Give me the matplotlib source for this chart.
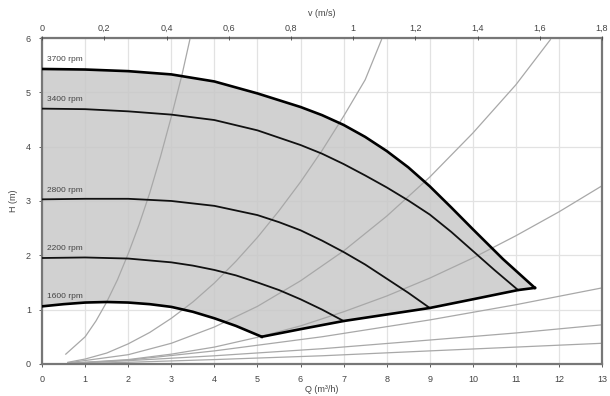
import matplotlib
matplotlib.use("Agg")
import matplotlib.pyplot as plt

plt.rcParams['font.family'] = ['Liberation Sans', 'DejaVu Sans']

# pump curves, Q (m3/h) vs H (m)
q_3700 = [0, 1.0, 2.0, 3.0, 4.0, 5.0, 6.0, 6.5, 7.0, 7.5, 8.0, 8.5, 9.0, 9.5, 10.0, 10.7, 11.44]
h_3700 = [5.43, 5.42, 5.39, 5.33, 5.20, 4.98, 4.73, 4.58, 4.40, 4.18, 3.92, 3.62, 3.27, 2.88, 2.48, 1.93, 1.40]

q_3400 = [0, 1.0, 2.0, 3.0, 4.0, 5.0, 6.0, 6.5, 7.0, 7.5, 8.0, 8.5, 9.0, 9.5, 10.0, 10.5, 11.05]
h_3400 = [4.70, 4.69, 4.65, 4.59, 4.49, 4.30, 4.03, 3.87, 3.68, 3.47, 3.25, 3.01, 2.75, 2.43, 2.08, 1.73, 1.36]

q_2800 = [0, 1.0, 2.0, 3.0, 4.0, 5.0, 5.5, 6.0, 6.5, 7.0, 7.5, 8.0, 8.5, 9.0]
h_2800 = [3.03, 3.04, 3.04, 3.00, 2.91, 2.74, 2.61, 2.46, 2.27, 2.06, 1.83, 1.57, 1.31, 1.03]

q_2200 = [0, 1.0, 2.0, 3.0, 3.5, 4.0, 4.5, 5.0, 5.5, 6.0, 6.5, 7.0]
h_2200 = [1.95, 1.96, 1.94, 1.87, 1.81, 1.73, 1.63, 1.50, 1.36, 1.19, 1.00, 0.79]

q_1600 = [0, 0.5, 1.0, 1.5, 2.0, 2.5, 3.0, 3.5, 4.0, 4.5, 5.1]
h_1600 = [1.06, 1.10, 1.13, 1.14, 1.13, 1.10, 1.05, 0.96, 0.84, 0.70, 0.50]

# max flow boundary (bottom right edge of the field)
q_limit = [5.1, 6.0, 7.0, 8.0, 9.0, 10.0, 11.05, 11.44]
h_limit = [0.50, 0.64, 0.79, 0.91, 1.03, 1.19, 1.36, 1.40]

speed_labels = ['3700 rpm', '3400 rpm', '2800 rpm', '2200 rpm', '1600 rpm']
label_h = [5.6, 4.86, 3.2, 2.12, 1.24]

# thin grey system curves
sys_q = [
    [0.55, 1.0, 1.25, 1.5, 1.75, 2.0, 2.25, 2.5, 2.75, 3.0, 3.25, 3.43],
    [0.6, 1.0, 1.5, 2.0, 2.5, 3.0, 3.5, 4.0, 4.5, 5.0, 5.5, 6.0, 6.5, 7.0, 7.5, 7.88],
    [0.6, 2.0, 3.0, 4.0, 5.0, 6.0, 7.0, 8.0, 9.0, 10.0, 11.0, 11.8],
    [0.6, 2.0, 3.0, 4.0, 5.0, 6.0, 7.0, 8.0, 9.0, 10.0, 11.0, 12.0, 13.0],
    [0.6, 2.0, 4.0, 6.5, 9.0, 11.0, 13.0],
    [0.6, 2.0, 4.0, 6.5, 9.0, 11.0, 13.0],
    [0.6, 2.0, 4.0, 6.5, 9.0, 11.0, 13.0],
]
sys_h = [
    [0.18, 0.50, 0.79, 1.14, 1.55, 2.03, 2.56, 3.15, 3.82, 4.55, 5.33, 5.97],
    [0.03, 0.09, 0.20, 0.37, 0.58, 0.84, 1.14, 1.49, 1.89, 2.33, 2.82, 3.35, 3.93, 4.56, 5.23, 5.97],
    [0.02, 0.17, 0.38, 0.68, 1.06, 1.53, 2.08, 2.72, 3.44, 4.25, 5.14, 5.97],
    [0.01, 0.08, 0.18, 0.31, 0.49, 0.70, 0.96, 1.25, 1.58, 1.95, 2.36, 2.80, 3.28],
    [0.01, 0.07, 0.24, 0.50, 0.81, 1.09, 1.40],
    [0.01, 0.06, 0.15, 0.28, 0.44, 0.57, 0.72],
    [0.0, 0.03, 0.08, 0.15, 0.24, 0.31, 0.38],
]

q_ticks = list(range(0, 14))
h_ticks = list(range(0, 7))
v_ticks = [0, 0.2, 0.4, 0.6, 0.8, 1.0, 1.2, 1.4, 1.6, 1.8]
v_tick_labels = ['0', '0,2', '0,4', '0,6', '0,8', '1', '1,2', '1,4', '1,6', '1,8']

fig = plt.figure(figsize=(6.1, 3.96), dpi=100)
ax = fig.add_axes([0.069, 0.081, 0.918, 0.823])

txt_col = '#444444'

# field of operation
poly_q = [0] + q_3700 + q_limit[::-1] + q_1600[::-1]
poly_h = [h_1600[0]] + h_3700 + h_limit[::-1] + h_1600[::-1]
ax.fill(poly_q, poly_h, color='#c9c9c9', alpha=0.85, lw=0, zorder=1)

for qs, hs in zip(sys_q, sys_h):
    ax.plot(qs, hs, color='#a8a8a8', lw=0.9, zorder=2)

ax.plot(q_3700, h_3700, color='black', lw=1.9, zorder=4, solid_joinstyle='round')
ax.plot(q_1600, h_1600, color='black', lw=1.9, zorder=4, solid_joinstyle='round')
ax.plot(q_limit, h_limit, color='black', lw=1.9, zorder=4, solid_joinstyle='round')
for qs, hs in [(q_3400, h_3400), (q_2800, h_2800), (q_2200, h_2200)]:
    ax.plot(qs, hs, color='#111111', lw=1.3, zorder=3, solid_joinstyle='round')

for lab, y in zip(speed_labels, label_h):
    ax.text(0.12, y, lab, fontsize=6, color=txt_col, va='center', ha='left', zorder=5)

ax.set_xlim(0, 13)
ax.set_ylim(0, 6)
ax.set_xticks(q_ticks)
ax.set_yticks(h_ticks)
ax.grid(True, color='#e2e2e2', lw=0.9, zorder=0)
ax.set_axisbelow(True)
ax.tick_params(labelsize=6.5, colors=txt_col, length=2, width=0.6, pad=6)
for sp in ax.spines.values():
    sp.set_color('#777777')
    sp.set_linewidth(1.6)

ax.set_xlabel('Q (m³/h)', fontsize=6.5, color=txt_col, labelpad=1)
ax.set_ylabel('H (m)', fontsize=6.5, color=txt_col, labelpad=6)

top = ax.twiny()
top.set_xlim(0, 1.8)
top.set_xticks(v_ticks)
top.set_xticklabels(v_tick_labels)
top.tick_params(labelsize=6.5, colors=txt_col, length=3, width=0.6, pad=2, direction='inout')
for sp in top.spines.values():
    sp.set_visible(False)
top.set_xlabel('v (m/s)', fontsize=6.5, color=txt_col, labelpad=6)

fig.savefig('out.png', dpi=100)
